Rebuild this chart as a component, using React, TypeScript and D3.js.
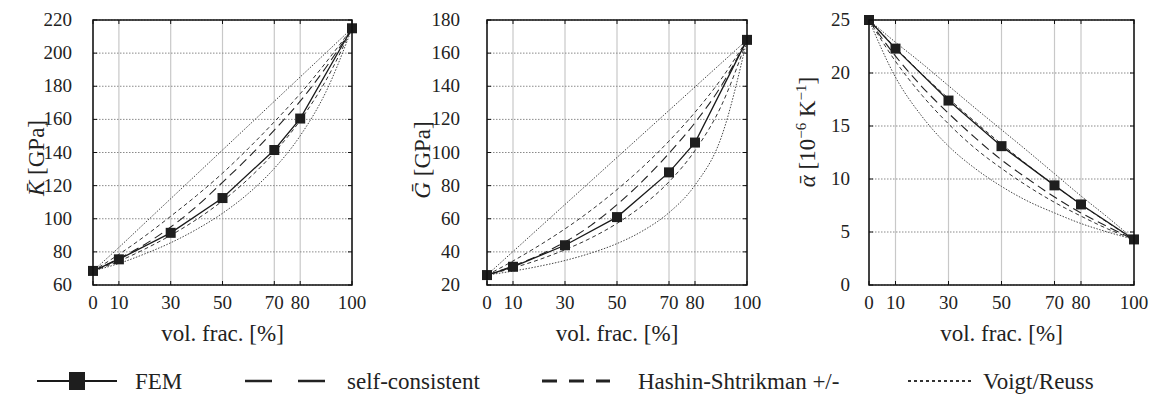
import React from 'react';
import * as d3 from 'd3';

const fracs = [0, 10, 20, 30, 40, 50, 60, 70, 80, 90, 100];
const femFracs = [0, 10, 30, 50, 70, 80, 100];
const xTicks = [0, 10, 30, 50, 70, 80, 100];

// bulk modulus K [GPa]
const femK = [68.5, 75.5, 91.5, 112.5, 141.5, 160.5, 215];
const scK = [68.5, 76, 84.5, 95, 107.5, 122, 137, 153.5, 171, 191.5, 215];
const hsUpperK = [68.5, 78.5, 89.5, 101.5, 114, 127.5, 142.5, 158.5, 175.5, 194.5, 215];
const hsLowerK = [68.5, 74.4, 81.7, 90, 99.6, 110.8, 124.1, 140, 159.4, 183.7, 215];
const voigtK = [68.5, 82.7, 97.4, 112.1, 126.8, 141.5, 156.2, 170.9, 185.6, 200.3, 215];
const reussK = [68.5, 73, 78.8, 85.5, 93.6, 103.3, 115.3, 130.4, 150.1, 176.8, 215];
const yTicksK = [60, 80, 100, 120, 140, 160, 180, 200, 220];

// shear modulus G [GPa]
const femG = [26, 31, 44, 61, 88, 106, 168];
const scG = [26, 31.5, 38, 46, 56, 68.5, 83, 99.5, 118, 140, 168];
const hsUpperG = [26, 34.5, 43.8, 53.9, 65.1, 77.6, 91.4, 106.9, 124.3, 144.2, 168];
const hsLowerG = [26, 30.3, 35.3, 41.3, 48.4, 57.2, 68.2, 82.3, 101.2, 127.8, 168];
const voigtG = [26, 40.2, 54.4, 68.6, 82.8, 97, 111.2, 125.4, 139.6, 153.8, 168];
const reussG = [26, 28.4, 31.3, 34.8, 39.3, 45, 52.8, 63.7, 80.3, 108.7, 168];
const yTicksG = [20, 40, 60, 80, 100, 120, 140, 160, 180];

// thermal expansion alpha [1e-6 1/K]
const femA = [25, 22.3, 17.4, 13.1, 9.4, 7.6, 4.3];
const scA = [25, 21.6, 18.7, 16.2, 13.9, 11.8, 10.0, 8.3, 6.8, 5.5, 4.3];
const hsUpperA = [25, 22.4, 19.9, 17.6, 15.4, 13.3, 11.3, 9.4, 7.6, 5.9, 4.3];
const hsLowerA = [25, 21.1, 17.9, 15.2, 12.9, 11.0, 9.3, 7.8, 6.5, 5.3, 4.3];
const voigtA = [25, 22.9, 20.9, 18.8, 16.7, 14.65, 12.6, 10.5, 8.4, 6.4, 4.3];
const reussA = [25, 19.6, 15.9, 13.1, 11.0, 9.3, 7.9, 6.8, 5.8, 5.0, 4.3];
const yTicksA = [0, 5, 10, 15, 20, 25];

const TOP = 20;
const BOTTOM = 285;
const SERIF = 'Times New Roman';

type PanelProps = {
  left: number;
  right: number;
  yDomain: [number, number];
  yTicks: number[];
  labelRight: number;
  fem: number[];
  sc: number[];
  hsU: number[];
  hsL: number[];
  voigt: number[];
  reuss: number[];
  yLabel: React.ReactNode;
  yLabelX: number;
  yLabelY: number;
};

function Panel(p: PanelProps) {
  const x = d3.scaleLinear().domain([0, 100]).range([p.left, p.right]);
  const y = d3.scaleLinear().domain(p.yDomain).range([BOTTOM, TOP]);
  const smooth = d3.line<number>()
    .x((_, i) => x(fracs[i]))
    .y((d) => y(d))
    .curve(d3.curveMonotoneX);
  const straight = d3.line<number>()
    .x((_, i) => x(femFracs[i]))
    .y((d) => y(d));

  return (
    <g>
      {xTicks.map((t) => (
        <line key={'vx' + t} x1={x(t)} x2={x(t)} y1={TOP} y2={BOTTOM} stroke="#c8c8c8" strokeWidth={1.2} />
      ))}
      {p.yTicks.map((t) => (
        <line key={'hy' + t} x1={p.left} x2={p.right} y1={y(t)} y2={y(t)} stroke="#8a8a8a" strokeWidth={1} strokeDasharray="1.5,1.5" />
      ))}
      <path d={smooth(p.voigt) || ''} fill="none" stroke="#444" strokeWidth={1} strokeDasharray="1.5,1.5" />
      <path d={smooth(p.reuss) || ''} fill="none" stroke="#444" strokeWidth={1} strokeDasharray="1.5,1.5" />
      <path d={smooth(p.hsU) || ''} fill="none" stroke="#333" strokeWidth={1} strokeDasharray="4,3" />
      <path d={smooth(p.hsL) || ''} fill="none" stroke="#333" strokeWidth={1} strokeDasharray="4,3" />
      <path d={smooth(p.sc) || ''} fill="none" stroke="#222" strokeWidth={1.1} strokeDasharray="9,5" />
      <path d={straight(p.fem) || ''} fill="none" stroke="#1a1a1a" strokeWidth={1.3} />
      {p.fem.map((v, i) => (
        <rect key={'m' + i} x={x(femFracs[i]) - 5} y={y(v) - 5} width={10} height={10} fill="#1e1e1e" />
      ))}
      <rect x={p.left} y={TOP} width={p.right - p.left} height={BOTTOM - TOP} fill="none" stroke="#111" strokeWidth={1.5} />
      {p.yTicks.map((t) => (
        <g key={'ty' + t}>
          <line x1={p.left} x2={p.left + 4} y1={y(t)} y2={y(t)} stroke="#111" />
          <line x1={p.right - 4} x2={p.right} y1={y(t)} y2={y(t)} stroke="#111" />
          <text x={p.labelRight} y={y(t) + 6} textAnchor="end" fontSize={19} fontFamily={SERIF} fill="#222">{t}</text>
        </g>
      ))}
      {xTicks.map((t) => (
        <g key={'tx' + t}>
          <line x1={x(t)} x2={x(t)} y1={BOTTOM} y2={BOTTOM - 4} stroke="#111" />
          <line x1={x(t)} x2={x(t)} y1={TOP} y2={TOP + 4} stroke="#111" />
          <text x={x(t)} y={309} textAnchor="middle" fontSize={19} fontFamily={SERIF} fill="#222">{t}</text>
        </g>
      ))}
      <text x={(p.left + p.right) / 2} y={341} textAnchor="middle" fontSize={23} fontFamily={SERIF} fill="#222">vol. frac. [%]</text>
      <text transform={`translate(${p.yLabelX},${p.yLabelY}) rotate(-90)`} textAnchor="middle" fontSize={23} fontFamily={SERIF} fill="#222">
        {p.yLabel}
      </text>
    </g>
  );
}

export default function App() {
  const ly = 381;
  return (
    <svg width={1157} height={395} fontFamily={SERIF} style={{ position: 'absolute', left: 0, top: 0, background: '#fff' }}>
      <Panel left={93} right={352} yDomain={[60, 220]} yTicks={yTicksK} labelRight={72}
        fem={femK} sc={scK} hsU={hsUpperK} hsL={hsLowerK} voigt={voigtK} reuss={reussK}
        yLabel={<><tspan fontStyle="italic">K̄</tspan> [GPa]</>} yLabelX={44} yLabelY={158} />
      <Panel left={487} right={747} yDomain={[20, 180]} yTicks={yTicksG} labelRight={460}
        fem={femG} sc={scG} hsU={hsUpperG} hsL={hsLowerG} voigt={voigtG} reuss={reussG}
        yLabel={<><tspan fontStyle="italic">Ḡ</tspan> [GPa]</>} yLabelX={430} yLabelY={160} />
      <Panel left={869} right={1134} yDomain={[0, 25]} yTicks={yTicksA} labelRight={850}
        fem={femA} sc={scA} hsU={hsUpperA} hsL={hsLowerA} voigt={voigtA} reuss={reussA}
        yLabel={<><tspan fontStyle="italic">ᾱ</tspan> [10<tspan dy="-9" fontSize={15}>−6</tspan><tspan dy="9"> K</tspan><tspan dy="-9" fontSize={15}>−1</tspan><tspan dy="9">]</tspan></>}
        yLabelX={815} yLabelY={132} />

      <g fontSize={23} fontFamily={SERIF} fill="#222">
        <line x1={37} x2={117} y1={ly} y2={ly} stroke="#1a1a1a" strokeWidth={2} />
        <rect x={69} y={ly - 9} width={16} height={18} fill="#1e1e1e" />
        <text x={135} y={389}>FEM</text>
        <line x1={245} x2={325} y1={ly} y2={ly} stroke="#222" strokeWidth={2.5} strokeDasharray="27,26" />
        <text x={347} y={389}>self-consistent</text>
        <line x1={542} x2={610} y1={ly} y2={ly} stroke="#222" strokeWidth={3} strokeDasharray="15,12" />
        <text x={638} y={389}>Hashin-Shtrikman +/-</text>
        <line x1={908} x2={973} y1={ly} y2={ly} stroke="#333" strokeWidth={2} strokeDasharray="3,3" />
        <text x={983} y={389}>Voigt/Reuss</text>
      </g>
    </svg>
  );
}
